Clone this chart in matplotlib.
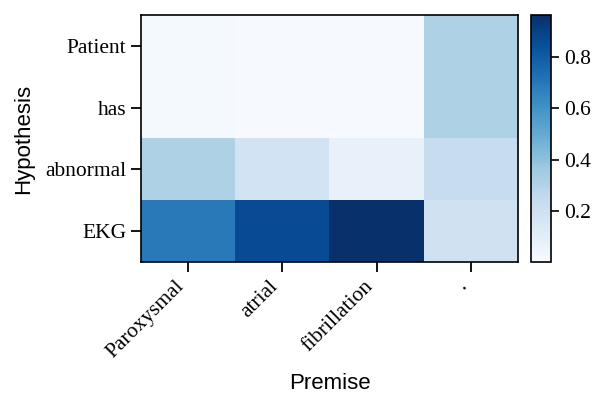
import numpy as np
import matplotlib
matplotlib.use("Agg")
import matplotlib.pyplot as plt

# tokens
premise = ["Paroxysmal", "atrial", "fibrillation", "."]
hypothesis = ["Patient", "has", "abnormal", "EKG"]

# attention weights, one row per hypothesis token
row_patient = [0.012, 0.006, 0.006, 0.31]
row_has = [0.012, 0.006, 0.006, 0.31]
row_abnormal = [0.31, 0.18, 0.07, 0.23]
row_ekg = [0.69, 0.86, 0.96, 0.19]

attn = np.array([row_patient, row_has, row_abnormal, row_ekg])

plt.rcParams["font.family"] = "Liberation Serif"
plt.rcParams["font.size"] = 15.5
plt.rcParams["axes.linewidth"] = 1.2

fig = plt.figure(figsize=(5.98, 3.95), dpi=100)
ax = fig.add_axes([0.236, 0.337, 0.63, 0.625])
cax = fig.add_axes([0.888, 0.337, 0.034, 0.625])

im = ax.imshow(attn, cmap="Blues", aspect="auto", vmin=0.0, vmax=0.965)

ax.set_xticks(np.arange(len(premise)))
ax.set_xticklabels(premise, rotation=45, ha="right")
ax.set_yticks(np.arange(len(hypothesis)))
ax.set_yticklabels(hypothesis)
ax.tick_params(length=7, width=1.3)

ax.set_xlabel("Premise", fontfamily="Liberation Sans", fontsize=16, labelpad=8)
ax.set_ylabel("Hypothesis", fontfamily="Liberation Sans", fontsize=16, labelpad=8)

cb = fig.colorbar(im, cax=cax)
cb.set_ticks([0.2, 0.4, 0.6, 0.8])
cb.ax.tick_params(length=6, width=1.2)
cb.outline.set_linewidth(1.2)

fig.savefig("out.png", dpi=100)
